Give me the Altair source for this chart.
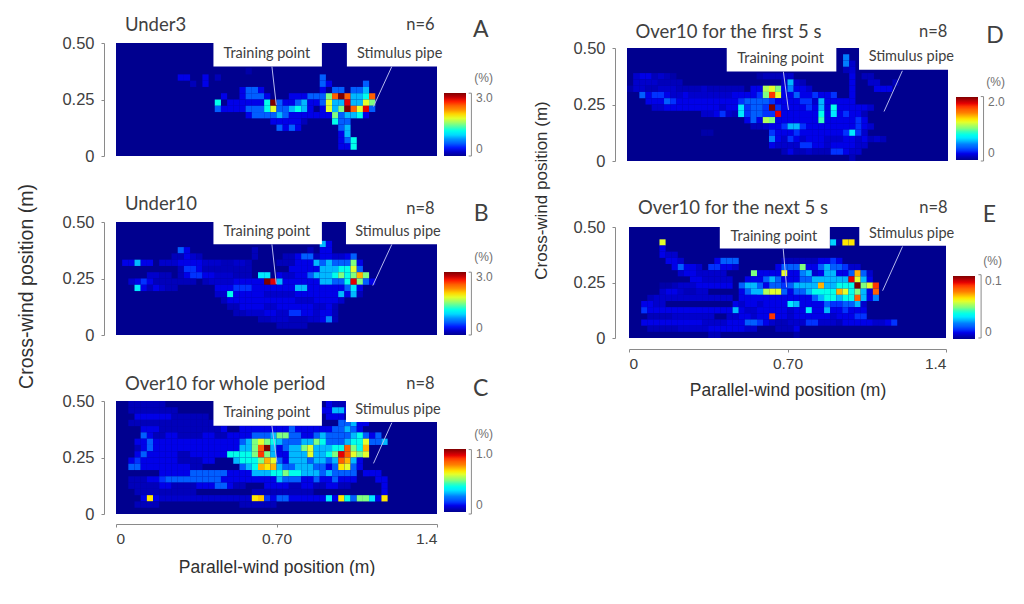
import altair as alt
import pandas as pd

JET = ["#00008f", "#0000ff", "#007fff", "#00ffff", "#7fff7f", "#ffff00", "#ff7f00", "#ff0000", "#7f0000"]
N_COLS, N_ROWS = 52, 18
X_MAX, Y_MAX = 1.4, 0.5

# each segment: (row from bottom, first column, values in tenths of the panel's colour-bar maximum)
under3 = [
    (13, 21, [.3]),
    (12, 10, [1, 1]), (12, 14, [1]), (12, 16, [.5]), (12, 33, [2]),
    (11, 12, [.5]), (11, 14, [1]), (11, 33, [2, 1]), (11, 40, [2]),
    (10, 20, [1, 2, 2, 1]), (10, 33, [1, 0, 2, 2, 0, 2, 2, 3]),
    (9, 17, [1]), (9, 20, [1, 2, 2, 2, 1]), (9, 28, [1, 1, 1, 2]), (9, 32, [2, 2, 5, 8, 10, 8, 3, 3, 4, 8]),
    (8, 16, [4]), (8, 18, [1, 1, 1, 1, 1, 1]), (8, 24, [4, 10, 2, 1, 1, 2, 3, 1, 1, 2, 6, 3, 3, 9, 3, 3, 6, 5]),
    (7, 16, [2, 1, 1, 1, 1, 2, 2, 2, 4, 6, 2, 2, 3, 4, 3, 1, 0, 1, 6, 3, 5, 10, 8, 6, 9, 2]),
    (6, 21, [1, 2, 2, 2, 2, 3, 2, 1, 1, 1, 1, 1, 1, 1]), (6, 35, [5, 2, 3, 3, 4, 1]),
    (5, 25, [1, 1, 1, 1, 1, .5]), (5, 35, [4, 2, 2]),
    (4, 26, [2, 1, 2, 1]), (4, 36, [2, 3]),
    (3, 36, [1, 3]),
    (2, 36, [1, 2, 4]),
    (1, 36, [1, 1, 4]),
]
under10 = [
    (14, 33, [3, 1]),
    (13, 10, [2, 1]), (13, 22, [.5]), (13, 31, [.5]), (13, 33, [1, 1]),
    (12, 9, [.5, .5, 1, .7, .5]), (12, 22, [.5]), (12, 27, [.5, .5, 1, 2, 2, .5, 1, 1, .7, .7, 1, 2]),
    (11, 1, [1, 1, 3, 1, 1]), (11, 7, [.7, .7, .7, 1, 1, 1, 1, .7, .7, .7, .5, .5, .7, .7, .5]),
    (11, 26, [.5, .5, .5, 1, 1, 1, 3, 2, 3, 2, 2, 2, 5, 1]),
    (10, 10, [.5, 1.5, 1.5, 1, .5, .5, .5, .5, .5, .5, .5, .5]), (10, 28, [1, 1, 1, 1, 1, 3, 3, 3, 4, 4, 6, 2]),
    (9, 5, [.7, .7, .5, .5]), (9, 10, [.5, 1, 1.5, 1.5, 1, 1, .7, .7, .7, .5, .5, .5]), (9, 23, [3.5, 3.5]),
    (9, 26, [1, .7, .7, 1, 1, 2]), (9, 32, [3, 3, 3, 4, 5, 4, 5, 7, 5]),
    (8, 2, [.7, 1, 1.5, 1, .5, .5, .5, .5, .5, .5, .5]), (8, 14, [.5, .7, .7, .7, .7, 1, 1, 1, 1, 1]),
    (8, 24, [10, 9, 3, 1, 1, 1, 1, 1, 1, 3, 3, 2, 2, 4, 9, 5, 2, 1]),
    (7, 3, [3.5, 1, .5, 1, .7, .5, .5]), (7, 16, [1, 1, 1, 1.5, 1.5, 1.5, 1, 1, 1, 1, 1, 1, 1, 3, 3, 1, 1, 1, 1, 1, 1, 2, 3.5, 1]),
    (6, 16, [.7, .7, 4, 1, 1, 1, 1, 1, .7, .7, .7, .7, .7, 1, 1, 1, 1, 1, 1, 1, 3, 1, 3, .5]),
    (5, 17, [.5, 1, 1, 1, 1, 1, 1, 1, 1, 1, 1, 1, .7, .7, .7, 1, 1, 1, 1, .7]),
    (4, 18, [.5, .5, 1, 1, 1, 1, .7, .7, 1, 1, 1, 1, 1, 1, .7, .7, 1, .5]),
    (3, 19, [.5, .5, .7, .7, .7, 1, 1, .7, .7, 1.5, 1.5, 1, 1, .7, 1, 1, .5]),
    (2, 23, [.5, .5, .7, .7, .7, .5, .5, .5, .7, .7, 1, 2.5, .5]),
    (1, 26, [.5, .5, .5, .5, .5]),
]
over10_whole = [
    (17, 2, [.5, .5, .5, .5, .5, .5]), (17, 34, [1, .5, .5, .5]),
    (16, 2, [.5, .5, .5, .5, .5, .5, .5, .5]), (16, 33, [1, 1, 3, 3, 1]),
    (15, 3, [1, 1, 1, 1, 1, 1, .5, .5, .5, .5, .5, .5]), (15, 34, [1, 1, 1]),
    (14, 2, [.5, .5, .5, .5, .5, .5, .5, .5, .5, .5, .5, .5, .5, .5]), (14, 36, [2, 2, 3, 1, 1]),
    (13, 4, [1, 1, 1, .5, .5, .5, .5, .5, .5, .5, .5, .5, .5, 1]), (13, 20, [1, 1, 1, 1, 1, 1, 1, 1, 2, 1, 1, 1, 1, 1, 1, 2, 2, 3, 2, 1]),
    (12, 4, [2, 1, .5, .5, 1, 1, .5, .5, .5, .5, 1, 1, .5, .5, 1, 1, 1, 1, 2, 2, 2, 3, 5, 5, 2, 2, 1, 1, 2, 3, 2, 2, 2, 2, 3, 4, 2, 1, 2]),
    (11, 3, [1, 1, 2, 1, 1, 1, 1, 1, 1, 1, 1, 1, 1, 1, 1, 1, 1, 2, 3, 5, 6, 5, 4, 3, 2, 2, 2, 3, 3, 5, 4, 2, 2, 2, 3, 4, 4, 6, 2, 2, 3]),
    (10, 3, [.5, 1, 2, 1, 1, 1, 1, 1, 1, 1, 1, 1, 1, 1, 1, 1, 1]), (10, 20, [3, 3, 5, 8, 10, 3, 1, 2, 3, 3, 5, 6, 3, 3, 3, 4, 4, 8, 5, 4, 7]),
    (9, 3, [1, 2, 1, 1, 1, 1, 1, .5, .5, 1, 1, 1, 1, 1, 1]), (9, 18, [4, 4, 4, 4, 5, 8.5, 5, 3, 1, 1, 3, 3, 3, 6, 3, 3, 4, 5, 9, 8, 6, 5, 6]),
    (8, 2, [1, 1.5, 1, 1, 1, 1, 1, 1, .5, .5, .5, .5, 1, 1]), (8, 19, [3, 4, 4, 4, 5, 7, 6, 2, 1, 3, 3, 3, 2, 3, 3, 2, 3, 8, 7, 3, 1]),
    (7, 2, [2, 2, 1, 1, 1, 1, 1, 1, 1, 1, .5, .5]), (7, 20, [2, 3, 4, 7, 6.5, 7, 3, 2, 2, 3, 3, 3, 2, 2, 1, 2, 6.5, 6, 2, 1]),
    (6, 7, [1, 1, 1, 1, 1, 2, 2, 2, 2, 2, 2, 1, 1, 1, 1, 2]), (6, 22, [3, 3, 3, 4, 4, 5, 4, 4, 3, 3, 3, 2, 3, 2, 2, 2, 2]), (6, 40, [1, 1, 1]),
    (5, 2, [.5, .5, .5, 1, 1, 1.5, 2, 2, 2, 2, 2, 2, 2, 2, 2, 1, 1, 1, 1, 1, 1]), (5, 23, [1, 1, 1, 3, 2, 2, 2, 1, 1, 2, 1, 1, 2, 1, 1, 1]), (5, 42, [1, 1]),
    (4, 2, [.5, .5, .5, .5, .5, 1, 1, .5, .5, .5, .5, 1, 1, 1, 2, 2, 1, .5, .5]), (4, 24, [1, 1, 1, 1, .5, .5, 1, 1, .5, .5, 1, 1, .5, .5]), (4, 43, [1]),
    (3, 3, [.5, .5, .5, .5, .5, .5, .5, .5, .5, .5]), (3, 22, [.5, .5, .5, .5, .5, .5, .5, .5, .5, .5]), (3, 43, [1]),
    (2, 4, [1, 6.5, 1, .7, .7, .7, .7, .7, .7, .7, .7, .7, .7, .7, .7, .7, .7, .7]), (2, 22, [6.5, 6.8, 1.5, 1, 2, 2, 1, 1, 1, 1, 1, 1, 3.5, 1, 6.5, 4, 2, 5, 5, 3.5, 1, 6.5]),
    (1, 3, [.5, .5, .5, .5]), (1, 20, [.5, .5, .5, .5, .5, .5]),
]
over10_first = [
    (16, 35, [2.5]),
    (15, 35, [2.5, .7]),
    (14, 35, [.5, .8]),
    (13, 1, [.7, 1, 1, .5, .7, .5, .3]), (13, 21, [.3, .5, .5, .5, .7, .7]), (13, 36, [1]), (13, 38, [.5, .5]),
    (12, 1, [.7, .7, .7, .7, .5, .5, .5, .5]), (12, 25, [.7, 3, .7, .5]), (12, 36, [1]), (12, 39, [.7, .7]), (12, 43, [.5]),
    (11, 0, [.3, .7, .7, .5, .5, .7, .7, .7, .5, .5, .5, .5, .7, .5, .5, .5, .5, .5, .5]), (11, 20, [1, 1, 5.5, 6, 5, 1, 2.5, 1, 1, .7]), (11, 36, [1]), (11, 40, [1, 1, 1]),
    (10, 2, [2, 1, 1.5, 1.5, 1, .7, .7, 1, .7, .7, .7, .7, .7, .7, .7, 1, 1, 1]), (10, 20, [1, 1.5, 5, 8.5, 6, 1, 1, 2, 1, 1, 1.5, 1, 1, 1.5]), (10, 36, [1]),
    (9, 3, [1, 1, 1, 2, 1.5, 1, 1, 1, 1, 1, 1, 1, 1, 1, 1, 1.5, 2]), (9, 20, [2, 2, 2, 1.5, 1, 1, 1, 1, 1.5, 1.5, .7, 3, 1, 1, 1, 1, 1]),
    (8, 4, [.7, .7, 1, 1, 1, 1, 1, 1, 1, 1, 1, .7, 1, 1]), (8, 18, [3.5, 1.5, 2, 2, 1.5, 10, 1.5, 1, 1, 1, 1, 1.5, 1, 3, 1, 4, 1, 1, 1, 1, 1, .7]),
    (7, 12, [.7, .7, 1, 1.5, .7, .5]), (7, 18, [3.5, 1.5, 2, 2, 1.5, 1.5, 9, 1, 1, 1, 1, 1, 1, 4, 1, 3.5, 1, 1.5, 1, 1, .5]),
    (6, 19, [1, 2, 1, 5.5, 5, 1, 1, 1, 1, 1, 1, 1, 4.5, 1, 1, 1, 1, 1, 1.5, 1]),
    (5, 20, [.5, .5, .7, 1, 1, 1.5, 3, 3, 1.5, 1, 1, 1, 1, 1, 1, 1, 1, 1.5, 1, .7]),
    (4, 12, [.3, .3]), (4, 23, [1.5, 1, 1, 1, 1.5, 1, 1, 1, 1, 1, 1, 1, 1.5, 3.5, 1.5, .7]),
    (3, 23, [2.5, 1, .7, 1.5, 1, .7, 1, 1, 1, .7, .7, .7, 1, 1, .7, 1, .5, .7, .5]),
    (2, 23, [1, .7, .7, .7, .7, 1.5, 1.5, 1, 1, .7, 1, 1, 1, 1, .7, .7]),
    (1, 25, [.5, 1, .5, .5, .7, .5, .5, .5, 1.5, 1.5, 1, .7, .7]),
    (0, 36, [.5]),
]
over10_next = [
    (15, 5, [6]), (15, 33, [3.3, .3, 6.5, 6.5]),
    (14, 5, [1]),
    (13, 5, [1, .7, .7]),
    (12, 6, [1, 1, .7]), (12, 14, [1, 2, 2, 2]), (12, 25, [.5, .5, .5, .5, .5, .5, 1, 1, 1.5, 1]),
    (11, 7, [1, 2, 1, 1, .7]), (11, 13, [1.5, 1.5, 1, 1, .7]), (11, 24, [1, 2, 2, 2, 5, 1, 1, 2, 3, 2, 2, 1.5, .7, .7]),
    (10, 8, [.7, 1, 1, .7, .7, .7, .7, .7]), (10, 20, [5, 1, 1, 1, 1, 6, 1, 1, 2.5, 3, .7, 1, 3, 3, 1, 1, 2, 7, 2, .7]),
    (9, 10, [1, 1, .7, .7, .7, .7, .7]), (9, 19, [1, 1, 1, 2, 3, 2, 1, 1, 1, 2, 2, 3, 3, 3, 3, 3, 3, 9, 6, 3, 1]),
    (8, 5, [.3, .3, .5, .7, .7, .7, 1, 1, 1, 1, 1, 1]), (8, 18, [2, 3, 3, 2, 1, 2, 2, 1.5, 2, 3, 3, 3, 3, 7, 3, 3, 4, 4, 4, 10, 5, 6, 8.5]),
    (7, 5, [.7, 1, 1, .7, .5, .5, .7, .7]), (7, 18, [1, 2, 3, 3, 5.5, 6, 6, 2, 1, 2, 2, 3, 4, 4, 4, 4, 7, 6, 4, 5, 3, 1, 8]),
    (6, 3, [.5, .7, .7, .7, .7, .7, .7, .7, .7, .7, .7, .7, .7, .7]), (6, 18, [1, 1, 1, 1, 1, 1, 1, 1, 1, 1, 1, 1, 2, 3, 4, 4, 3, 4, 4, 8, 3, 1, 2.5]),
    (5, 2, [1, 1, .7, .7]), (5, 17, [1, .7, 1, 1, .7, 1, 1, 1, 1, 3.5, 3, 1, 1, 1, 1, 2, 1.5, 1.5, 2, 2, 3, .7]),
    (4, 2, [1.5, 1, 1, 1, 1, 1, 1, 1, 1, 1, 1, 1, 1, 1, 1, 3]), (4, 18, [1, .7, .7, 1, 1, 1, 1, 1, .7, 1, 1, 3.5, 1, 1, 3, 1, 1, 1.5, 1, 1, 1]),
    (3, 3, [.5, .5, .5, .5, .7, .7, .7, .7, .7, .7, .7]), (3, 16, [.7, .7, 1, 1, .7, 1, 1, 8.5, 1, 1, .7, 1, 1, 1, 1, 1, 1, .7, 1, 1, 1, 1.5, 1.5]),
    (2, 2, [1, 1, 1, 1, 1, 1, 1, 1, 1, 1, .7, .7, .7, .7, 1, 1, 1, 2, 2, 1.5, 1, .7]), (2, 24, [.5, .5, .7, .7, .7, 1.5, 1.5, .7, .7, .7, .5, 1, 1, 1, 1, 1, .7, .7, 1, 1.5]),
    (1, 3, [.5, .5, .5, .5, .5, .7, .7, .7, .7, .7, 1, 1, 1, 1, 1, 1, .7, .7]), (1, 24, [.5, .5, .5, 1]),
    (0, 13, [.5, .5]), (0, 27, [.3]),
]

panels = [
    dict(cells=under3, vmax=3.0, title="Under3", n="n=6", letter="A",
         title_xy=(.039, .581), n_xy=(1.39, .581), letter_xy=(1.557, .559),
         train_box=(.425, .898, .396, .5), stim_box=(1.007, 1.43, .396, .5),
         train_text=(.658, .453), stim_text=(1.237, .453),
         train_line=(.680, .396, .699, .226), stim_line=(1.203, .396, 1.123, .219),
         bar_x=1.550, bar_top=.278, lx=328, ly=30, xr=[0, 321], yr=[113, 0], h=118),
    dict(cells=under10, vmax=3.0, title="Under10", n="n=8", letter="B",
         title_xy=(.039, .581), n_xy=(1.39, .559), letter_xy=(1.560, .537),
         train_box=(.425, .898, .401, .5), stim_box=(1.003, 1.43, .401, .5),
         train_text=(.658, .456), stim_text=(1.23, .456),
         train_line=(.680, .401, .699, .226), stim_line=(1.203, .401, 1.120, .219),
         bar_x=1.550, bar_top=.278, lx=328, ly=30, xr=[0, 321], yr=[113, 0], h=122),
    dict(cells=over10_whole, vmax=1.0, title="Over10 for whole period", n="n=8", letter="C",
         title_xy=(.039, .574), n_xy=(1.39, .574), letter_xy=(1.557, .552),
         train_box=(.425, .898, .390, .5), stim_box=(1.003, 1.43, .407, .5),
         train_text=(.658, .449), stim_text=(1.23, .46),
         train_line=(.680, .390, .702, .228), stim_line=(1.203, .404, 1.123, .224),
         bar_x=1.550, bar_top=.285, lx=328, ly=28, xr=[0, 321], yr=[113, 0], h=113),
    dict(cells=over10_first, vmax=2.0, title="Over10 for the first 5 s", n="n=8", letter="D",
         title_xy=(.037, .571), n_xy=(1.397, .571), letter_xy=(1.567, .552),
         train_box=(.435, .913, .396, .5), stim_box=(1.012, 1.43, .404, .5),
         train_text=(.670, .453), stim_text=(1.24, .46),
         train_line=(.682, .396, .704, .226), stim_line=(1.201, .399, 1.121, .219),
         bar_x=1.555, bar_top=.285, lx=329, ly=34, xr=[0, 321], yr=[118, 5], h=118),
    dict(cells=over10_next, vmax=0.1, title="Over10 for the next 5 s", n="n=8", letter="E",
         title_xy=(.04, .584), n_xy=(1.407, .584), letter_xy=(1.562, .554),
         train_box=(.401, .887, .403, .5), stim_box=(1.017, 1.43, .415, .5),
         train_text=(.640, .457), stim_text=(1.248, .47),
         train_line=(.681, .403, .696, .228), stim_line=(1.208, .412, 1.120, .213),
         bar_x=1.555, bar_top=.285, lx=326, ly=34, xr=[2, 319], yr=[116, 5], h=122),
]

TXT = "#404040"
GREY = "#8a8a8a"


def cell_frame(p):
    dx, dy = X_MAX / N_COLS, Y_MAX / N_ROWS
    rows = []
    for r, c0, vals in p["cells"]:
        for i, v in enumerate(vals):
            if v > 0:
                c = c0 + i
                rows.append(dict(x0=c * dx, x1=(c + 1) * dx, y0=r * dy, y1=(r + 1) * dy, v=v / 10 * p["vmax"]))
    return pd.DataFrame(rows)


def panel(p, x_axis=None, y_axis_title=None, title_xy=(0, 0), y_size=16):
    xs = alt.Scale(domain=[0, X_MAX], range=p["xr"], nice=False, zero=False)
    ys = alt.Scale(domain=[0, Y_MAX], range=p["yr"], nice=False, zero=False)

    y_ax = alt.Axis(values=[0, .25, .5], labelExpr="datum.value == 0 ? '0' : format(datum.value, '.2f')",
                    offset=12, domainColor=GREY, tickColor=GREY, tickSize=3, grid=False,
                    labelFont="Liberation Sans", labelFontSize=16.5, labelColor=TXT, labelPadding=7,
                    title=y_axis_title, titleFont="Liberation Sans", titleFontSize=y_size,
                    titleFontWeight="normal", titleColor="#303030", titleX=title_xy[0], titleY=title_xy[1])
    if x_axis:
        x_ax = alt.Axis(values=[0, .7, 1.4], labelExpr="datum.value == 0 ? '0' : datum.value == 1.4 ? '1.4' : '0.70'",
                        offset=x_axis[2], domainColor=GREY, tickColor=GREY, tickSize=3, grid=False,
                        labelFont="Liberation Sans", labelFontSize=15.5, labelColor=TXT, labelPadding=x_axis[3],
                        title=x_axis[0], titleFont="Liberation Sans", titleFontSize=17.5,
                        titleFontWeight="normal", titleColor="#303030", titlePadding=x_axis[1])
    else:
        x_ax = None
    xe = lambda f: alt.X(f, scale=xs, axis=x_ax, title=x_axis[0] if x_axis else None)
    ye = lambda f: alt.Y(f, scale=ys, axis=y_ax, title=y_axis_title)

    bg = alt.Chart(pd.DataFrame([dict(a=0, b=X_MAX, c=0, d=Y_MAX)])).mark_rect(color=JET[0]).encode(
        x=xe("a:Q"), x2="b:Q", y=ye("c:Q"), y2="d:Q")

    heat = alt.Chart(cell_frame(p)).mark_rect().encode(
        x=xe("x0:Q"), x2="x1:Q", y=ye("y0:Q"), y2="y1:Q",
        color=alt.Color("v:Q", scale=alt.Scale(domain=[0, p["vmax"]], range=JET),
                        legend=alt.Legend(orient="none", legendX=p["lx"], legendY=p["ly"], title="(%)", direction="vertical",
                                          gradientLength=63, gradientThickness=22, values=[0, p["vmax"]],
                                          labelExpr="datum.value == 0 ? '0' : format(datum.value, '.1f')",
                                          labelFont="Liberation Sans", labelFontSize=12, labelColor="#707070", labelOffset=10,
                                          titleFont="Liberation Sans", titleFontSize=12, titleFontWeight="normal",
                                          titleColor="#707070", titleAnchor="end", titlePadding=8)))

    boxes = alt.Chart(pd.DataFrame([p["train_box"], p["stim_box"]], columns=["a", "b", "c", "d"])).mark_rect(color="white").encode(
        x=xe("a:Q"), x2="b:Q", y=ye("c:Q"), y2="d:Q")
    lines = alt.Chart(pd.DataFrame([p["train_line"], p["stim_line"]], columns=["a", "c", "b", "d"])).mark_rule(color="#b4b8ec", strokeWidth=1).encode(
        x=xe("a:Q"), x2="b:Q", y=ye("c:Q"), y2="d:Q")

    bar = alt.Chart(pd.DataFrame([dict(a=p["bar_x"], c=0, d=p["bar_top"])])).mark_rule(color=GREY).encode(
        x=xe("a:Q"), y=ye("c:Q"), y2="d:Q")
    bar_ends = alt.Chart(pd.DataFrame([dict(a=p["bar_x"] - .012, b=p["bar_x"], c=0), dict(a=p["bar_x"] - .012, b=p["bar_x"], c=p["bar_top"])])).mark_rule(color=GREY).encode(
        x=xe("a:Q"), x2="b:Q", y=ye("c:Q"))

    def text(rows, align):
        df = pd.DataFrame(rows, columns=["t", "a", "c", "s"])
        return alt.Chart(df).mark_text(align=align, baseline="middle", font="Lato", color=TXT).encode(
            x=xe("a:Q"), y=ye("c:Q"), text="t:N", size=alt.Size("s:Q", scale=None, legend=None))

    left = text([(p["title"], *p["title_xy"], 18.5), (p["letter"], *p["letter_xy"], 23)], "left")
    right = text([(p["n"], *p["n_xy"], 16.5)], "right")
    centre = text([("Training point", *p["train_text"], 14.5), ("Stimulus pipe", *p["stim_text"], 14.5)], "center")

    return alt.layer(bg, heat, boxes, lines, bar, bar_ends, left, right, centre).properties(width=321, height=p["h"])


A = panel(panels[0])
B = panel(panels[1], y_axis_title="Cross-wind position (m)", title_xy=(-68, 64), y_size=19.5)
C = panel(panels[2], x_axis=("Parallel-wind position (m)", 12, 10, 4))
D = panel(panels[3], y_axis_title="Cross-wind position (m)", title_xy=(-65, 147), y_size=17)
E = panel(panels[4], x_axis=("Parallel-wind position (m)", 10, 5, 4))

chart = (
    alt.concat(A, D, B, E, C, columns=2, spacing={"row": 57, "column": 190}, bounds="flush", align="all")
    .resolve_scale(color="independent")
    .configure_view(stroke=None)
    .properties(background="white", padding={"left": 8, "top": 7, "right": 0, "bottom": 0})
)

chart.save("out.html", embed_options={"renderer": "svg", "actions": False})
